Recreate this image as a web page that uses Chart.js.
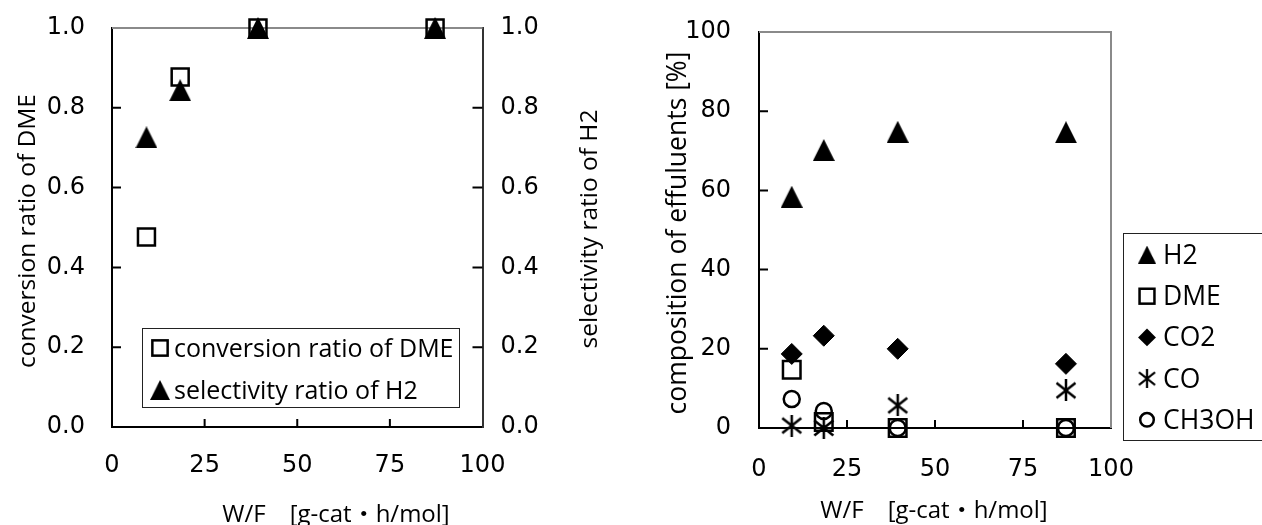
<!DOCTYPE html>
<html lang="en">
<head>
<meta charset="UTF-8">
<title>DME conversion and effluents vs W/F</title>
<script src="https://cdn.jsdelivr.net/npm/chart.js"></script>
<style>
  body { margin: 0; background: #fff; }
  .panel { position: absolute; top: 0; width: 631px; height: 525px; }
</style>
</head>
<body>

<div class="panel" style="left:0"><canvas id="chart_conversion" width="631" height="525"></canvas></div>
<div class="panel" style="left:631px"><canvas id="chart_effluents" width="631" height="525"></canvas></div>

<script>
  // W/F values [g-cat h/mol], same for both charts
  const wf = [9.3, 18.4, 39.4, 87.2];

  // left chart
  const convDME = [0.476, 0.877, 1.0, 1.0];
  const selH2 = [0.726, 0.844, 1.0, 1.0];

  // right chart, composition of effluents [%]
  const h2 = [58.4, 70.2, 74.8, 74.7];
  const dme = [14.7, 1.5, 0, 0];
  const co2 = [18.7, 23.3, 20.0, 16.2];
  const co = [0.6, 0, 5.7, 9.5];
  const ch3oh = [7.3, 4.3, 0, 0];

  const wfTicks = [0, 25, 50, 75, 100];
  const ratioTickLabels = ['0.0', '0.2', '0.4', '0.6', '0.8', '1.0'];
  const percentTicks = [0, 20, 40, 60, 80, 100];

  const FONT = "'Open Sans', 'Noto Sans CJK JP', sans-serif";
  const SIZE = 24;
  const tickFont = { family: "'DejaVu Sans', sans-serif", size: 24 };

  function pts(values) {
    return wf.map((x, i) => ({ x: x, y: values[i] }));
  }

  // small canvases used as point styles (filled triangle, asterisk)
  function marker(w, h, draw) {
    const c = document.createElement('canvas');
    c.width = w; c.height = h;
    const g = c.getContext('2d');
    g.fillStyle = '#000'; g.strokeStyle = '#000';
    draw(g);
    return c;
  }
  const triangle = marker(22, 22, g => {
    g.beginPath(); g.moveTo(11, 0); g.lineTo(22, 22); g.lineTo(0, 22); g.closePath(); g.fill();
  });
  const asterisk = marker(22, 22, g => {
    g.lineWidth = 2.5;
    g.beginPath();
    g.moveTo(11, 0); g.lineTo(11, 22);
    g.moveTo(1.5, 3.5); g.lineTo(20.5, 18.5);
    g.moveTo(20.5, 3.5); g.lineTo(1.5, 18.5);
    g.stroke();
  });

  // legend marker, k = scale against the plotted marker
  function legendMarker(ctx, ds, x, y, k) {
    const st = ds.pointStyle, r = ds.pointRadius * k;
    ctx.save();
    ctx.fillStyle = '#000'; ctx.strokeStyle = '#000'; ctx.lineWidth = 2.5;
    if (st instanceof HTMLCanvasElement) {
      const w = st.width * k, h = st.height * k;
      ctx.drawImage(st, x - w / 2, y - h / 2, w, h);
    } else if (st === 'rect') {
      const s = r * Math.SQRT1_2;
      ctx.strokeRect(x - s, y - s, 2 * s, 2 * s);
    } else if (st === 'rectRot') {
      ctx.beginPath();
      ctx.moveTo(x, y - r); ctx.lineTo(x + r, y); ctx.lineTo(x, y + r); ctx.lineTo(x - r, y);
      ctx.closePath(); ctx.fill();
    } else if (st === 'circle') {
      ctx.beginPath(); ctx.arc(x, y, r, 0, Math.PI * 2); ctx.stroke();
    }
    ctx.restore();
  }

  const frame = {
    id: 'frame',
    beforeDatasetsDraw(chart, args, opts) {
      const ctx = chart.ctx, a = chart.chartArea;
      ctx.save();
      ctx.strokeStyle = '#8a8a8a';
      ctx.lineWidth = 2;
      ctx.beginPath();
      ctx.moveTo(a.left, a.top); ctx.lineTo(a.right, a.top);
      if (opts.rightLine) ctx.lineTo(a.right, a.bottom);
      ctx.stroke();

      // ticks point into the plot
      ctx.strokeStyle = '#000';
      ctx.beginPath();
      Object.values(chart.scales).forEach(s => {
        s.ticks.forEach(t => {
          if (t.value === s.min || t.value === s.max) return;
          const p = s.getPixelForValue(t.value);
          if (s.isHorizontal()) { ctx.moveTo(p, a.bottom); ctx.lineTo(p, a.bottom - 8); }
          else if (s.position === 'left') { ctx.moveTo(a.left, p); ctx.lineTo(a.left + 9, p); }
          else { ctx.moveTo(a.right, p); ctx.lineTo(a.right - 10, p); }
        });
      });
      ctx.stroke();
      ctx.restore();
    },
    afterDraw(chart, args, opts) {
      const ctx = chart.ctx;
      ctx.save();
      ctx.fillStyle = '#000';
      ctx.textBaseline = 'alphabetic';

      opts.titles.forEach(t => {
        ctx.save();
        ctx.font = (t.size || SIZE) + 'px ' + FONT;
        ctx.textAlign = 'center';
        ctx.translate(t.x, t.y);
        if (t.rot) ctx.rotate(-Math.PI / 2);
        ctx.fillText(t.text, 0, 0);
        ctx.restore();
      });

      const lg = opts.legend;
      ctx.strokeStyle = '#222';
      ctx.lineWidth = 1;
      ctx.strokeRect(lg.x + 0.5, lg.y + 0.5, lg.w, lg.h);
      ctx.textAlign = 'left';
      ctx.font = lg.size + 'px ' + FONT;
      chart.data.datasets.forEach((ds, i) => {
        const y = lg.rowY + i * lg.step;
        legendMarker(ctx, ds, lg.markerX, y, lg.k);
        ctx.fillText(ds.label, lg.textX, y + 9);
      });
      ctx.restore();
    }
  };

  function axisX(height, padding) {
    return {
      type: 'linear', min: 0, max: 100,
      afterBuildTicks: s => { s.ticks = wfTicks.map(v => ({ value: v })); },
      afterFit: s => { s.height = height; },
      grid: { display: false, drawTicks: false },
      border: { display: true, color: '#000', width: 2 },
      ticks: { padding: padding, color: '#000', maxRotation: 0, autoSkip: false, font: tickFont }
    };
  }

  // fixed width for a vertical axis, and no extra room above/below for its labels
  function fitY(width) {
    return s => { s.width = width; s.paddingTop = 0; s.paddingBottom = 0; };
  }

  const base = { clip: false, pointBorderColor: '#000', pointBackgroundColor: 'rgba(0,0,0,0)', pointBorderWidth: 2.5 };

  new Chart(document.getElementById('chart_conversion'), {
    type: 'scatter',
    data: {
      datasets: [
        { ...base, label: 'conversion ratio of DME', data: pts(convDME), yAxisID: 'y', order: 2,
          pointStyle: 'rect', pointRadius: 12 },
        { ...base, label: 'selectivity ratio of H2', data: pts(selH2), yAxisID: 'y2', order: 1,
          pointStyle: triangle, pointRadius: 11, pointBackgroundColor: '#000' }
      ]
    },
    options: {
      responsive: false, animation: false, events: [],
      layout: { padding: { top: 28, left: 0, right: 0, bottom: 0 } },
      plugins: {
        legend: { display: false }, tooltip: { enabled: false },
        frame: {
          rightLine: false,
          titles: [
            { text: 'W/F\u3000[g-cat・h/mol]', x: 336, y: 522 },
            { text: 'conversion ratio of DME', x: 35, y: 231, rot: true, size: 24.5 },
            { text: 'selectivity ratio of H2', x: 597, y: 229, rot: true, size: 24.5 }
          ],
          legend: { x: 142, y: 328, w: 317, h: 79, markerX: 160, textX: 174, rowY: 348, step: 42, k: 0.9, size: 25 }
        }
      },
      scales: {
        x: axisX(98, 24),
        y: {
          position: 'left', min: 0, max: 1,
          afterBuildTicks: s => { s.ticks = ratioTickLabels.map(t => ({ value: parseFloat(t) })); },
          afterFit: fitY(112),
          grid: { display: false, drawTicks: false },
          border: { display: true, color: '#000', width: 2 },
          ticks: { padding: 27, color: '#000', font: tickFont, callback: (v, i) => ratioTickLabels[i] }
        },
        y2: {
          position: 'right', min: 0, max: 1,
          afterBuildTicks: s => { s.ticks = ratioTickLabels.map(t => ({ value: parseFloat(t) })); },
          afterFit: fitY(148.5),
          grid: { display: false, drawTicks: false },
          border: { display: true, color: '#333', width: 2 },
          ticks: { padding: 18, color: '#000', font: tickFont, callback: (v, i) => ratioTickLabels[i] }
        }
      }
    },
    plugins: [frame]
  });

  new Chart(document.getElementById('chart_effluents'), {
    type: 'scatter',
    data: {
      datasets: [
        { ...base, label: 'H2', data: pts(h2), pointStyle: triangle, pointRadius: 11, pointBackgroundColor: '#000' },
        { ...base, label: 'DME', data: pts(dme), pointStyle: 'rect', pointRadius: 12.4 },
        { ...base, label: 'CO2', data: pts(co2), pointStyle: 'rectRot', pointRadius: 10.5,
          pointBackgroundColor: '#000', pointBorderWidth: 1 },
        { ...base, label: 'CO', data: pts(co), pointStyle: asterisk, pointRadius: 11 },
        { ...base, label: 'CH3OH', data: pts(ch3oh), pointStyle: 'circle', pointRadius: 8 }
      ]
    },
    options: {
      responsive: false, animation: false, events: [],
      layout: { padding: { top: 32, left: 0, right: 151, bottom: 0 } },
      plugins: {
        legend: { display: false }, tooltip: { enabled: false },
        frame: {
          rightLine: true,
          titles: [
            { text: 'W/F\u3000[g-cat・h/mol]', x: 303, y: 518 },
            { text: 'composition of effuluents [%]', x: 55, y: 233, rot: true, size: 26.5 }
          ],
          legend: { x: 492, y: 233, w: 160, h: 207, markerX: 516, textX: 532, rowY: 255, step: 41.2, k: 0.85, size: 26.5 }
        }
      },
      scales: {
        x: axisX(97, 27),
        y: {
          position: 'left', min: 0, max: 100,
          afterBuildTicks: s => { s.ticks = percentTicks.map(v => ({ value: v })); },
          afterFit: fitY(128),
          grid: { display: false, drawTicks: false },
          border: { display: true, color: '#000', width: 2 },
          ticks: { padding: 28, color: '#000', font: tickFont }
        }
      }
    },
    plugins: [frame]
  });
</script>
</body>
</html>
